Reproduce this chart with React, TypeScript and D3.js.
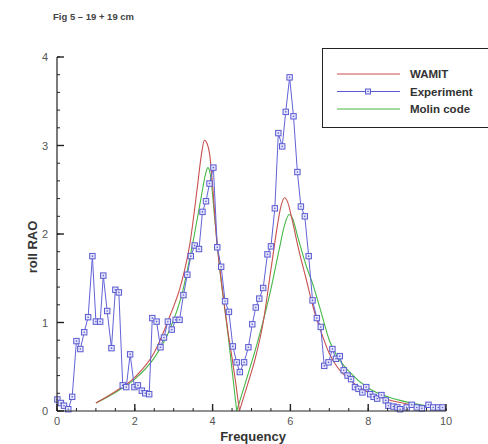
import React from 'react';
import * as d3 from 'd3';

// experiment (measured) roll RAO
const expFreq = [0.01, 0.1, 0.18, 0.29, 0.39, 0.5, 0.6, 0.7, 0.8, 0.91, 1.0, 1.11, 1.19, 1.29, 1.4, 1.5, 1.59, 1.69, 1.78, 1.88, 1.99, 2.08, 2.18, 2.27, 2.37, 2.45, 2.56, 2.66, 2.75, 2.85, 2.95, 3.05, 3.15, 3.25, 3.35, 3.44, 3.54, 3.65, 3.74, 3.83, 3.92, 4.02, 4.12, 4.22, 4.32, 4.42, 4.52, 4.62, 4.7, 4.81, 4.92, 5.02, 5.11, 5.2, 5.3, 5.41, 5.5, 5.6, 5.69, 5.79, 5.88, 5.98, 6.08, 6.18, 6.27, 6.37, 6.47, 6.57, 6.68, 6.78, 6.87, 6.98, 7.08, 7.17, 7.27, 7.37, 7.47, 7.56, 7.66, 7.75, 7.85, 7.95, 8.05, 8.14, 8.23, 8.34, 8.45, 8.52, 8.65, 8.75, 8.82, 8.99, 9.12, 9.25, 9.38, 9.55, 9.67, 9.8, 9.91];
const expRao = [0.13, 0.09, 0.06, 0.02, 0.16, 0.79, 0.7, 0.89, 1.06, 1.75, 1.01, 1.01, 1.53, 1.13, 0.71, 1.37, 1.34, 0.29, 0.27, 0.64, 0.27, 0.29, 0.23, 0.2, 0.19, 1.05, 1.01, 0.72, 0.83, 1.01, 0.92, 1.03, 1.03, 1.31, 1.54, 1.75, 1.87, 1.83, 2.25, 2.37, 2.57, 2.75, 1.85, 1.63, 1.24, 1.12, 0.73, 0.55, 0.44, 0.55, 0.72, 0.98, 1.17, 1.27, 1.39, 1.77, 1.86, 2.29, 3.14, 2.99, 3.38, 3.77, 3.33, 2.7, 2.31, 2.2, 1.75, 1.25, 1.05, 0.95, 0.51, 0.55, 0.7, 0.59, 0.62, 0.46, 0.4, 0.36, 0.27, 0.25, 0.21, 0.27, 0.19, 0.16, 0.14, 0.18, 0.12, 0.06, 0.05, 0.04, 0.02, 0.04, 0.07, 0.04, 0.03, 0.07, 0.04, 0.04, 0.04];

// WAMIT
const wamitFreq = [1.0, 1.5, 2.0, 2.5, 2.9, 3.2, 3.42, 3.6, 3.72, 3.79, 3.86, 3.93, 4.0, 4.1, 4.2, 4.3, 4.4, 4.5, 4.6, 4.69, 4.9, 5.1, 5.3, 5.5, 5.65, 5.75, 5.85, 5.93, 6.05, 6.2, 6.4, 6.6, 6.8, 7.0, 7.2, 7.5, 8.0, 8.5, 9.0, 9.5, 10.0];
const wamitRao = [0.09, 0.22, 0.38, 0.66, 1.07, 1.45, 1.9, 2.5, 2.92, 3.06, 3.02, 2.88, 2.55, 1.95, 1.55, 1.2, 0.88, 0.6, 0.3, 0.0, 0.3, 0.6, 1.0, 1.6, 2.05, 2.3, 2.41, 2.36, 2.15, 1.85, 1.5, 1.15, 0.88, 0.65, 0.5, 0.36, 0.21, 0.13, 0.08, 0.05, 0.03];

// Molin code
const molinFreq = [1.0, 1.5, 2.0, 2.5, 2.9, 3.2, 3.5, 3.7, 3.82, 3.88, 3.95, 4.05, 4.2, 4.4, 4.62, 4.9, 5.2, 5.5, 5.7, 5.85, 5.97, 6.05, 6.2, 6.4, 6.6, 6.8, 7.0, 7.2, 7.5, 8.0, 8.5, 9.0, 9.5, 10.0];
const molinRao = [0.09, 0.21, 0.36, 0.6, 0.92, 1.3, 1.92, 2.4, 2.68, 2.75, 2.65, 2.2, 1.55, 0.85, 0.0, 0.4, 0.85, 1.38, 1.8, 2.1, 2.22, 2.18, 1.95, 1.65, 1.4, 1.1, 0.8, 0.62, 0.45, 0.26, 0.16, 0.1, 0.06, 0.04];

const xTicks = [0, 2, 4, 6, 8, 10];
const yTicks = [0, 1, 2, 3, 4];

const legendItems = [
  { name: 'WAMIT', color: '#c85050', marker: false },
  { name: 'Experiment', color: '#5a5ad2', marker: true },
  { name: 'Molin code', color: '#46b846', marker: false },
];

const W = 488;
const H = 444;
const FONT = '"Liberation Sans", Arial, sans-serif';

const App: React.FC = () => {
  const x = d3.scaleLinear().domain([0, 10]).range([57, 446]);
  const y = d3.scaleLinear().domain([0, 4]).range([411, 57]);

  const toPts = (fx: number[], fy: number[]) => fx.map((f, i) => [f, fy[i]] as [number, number]);

  const smooth = d3
    .line<[number, number]>()
    .x((d) => x(d[0]))
    .y((d) => y(d[1]))
    .curve(d3.curveMonotoneX);
  const straight = d3
    .line<[number, number]>()
    .x((d) => x(d[0]))
    .y((d) => y(d[1]));

  // the computed curves have a sharp notch at the zero between the two peaks,
  // so draw each side of it as its own smooth piece
  const notched = (fx: number[], fy: number[]) => {
    const pts = toPts(fx, fy);
    const k = fy.indexOf(0);
    return (smooth(pts.slice(0, k + 1)) || '') + (smooth(pts.slice(k)) || '');
  };

  const xMinor = d3.range(0, 10.01, 0.5);
  const yMinor = d3.range(0, 4.01, 0.2);
  const exp = toPts(expFreq, expRao);

  return (
    <svg
      width={W}
      height={H}
      style={{ position: 'absolute', left: 0, top: 0, background: '#fff' }}
      fontFamily={FONT}
    >
      <text x={53} y={20} fontSize={9.5} fontWeight="bold" fill="#444">
        Fig 5 – 19 + 19 cm
      </text>

      {/* curves */}
      <path d={notched(molinFreq, molinRao)} fill="none" stroke="#46b846" strokeWidth={1.1} />
      <path d={notched(wamitFreq, wamitRao)} fill="none" stroke="#c85050" strokeWidth={1.1} />
      <path d={straight(exp) || undefined} fill="none" stroke="#6262d8" strokeWidth={1} />
      {exp.map((d, i) => (
        <g key={i}>
          <rect x={x(d[0]) - 2.7} y={y(d[1]) - 2.7} width={5.4} height={5.4} fill="#e6e6fb" stroke="#5a5ad2" strokeWidth={1} />
          <circle cx={x(d[0])} cy={y(d[1])} r={0.8} fill="#5a5ad2" />
        </g>
      ))}

      {/* axes */}
      <line x1={57} x2={57} y1={57} y2={411} stroke="#222" strokeWidth={1.2} />
      <line x1={57} x2={446} y1={411} y2={411} stroke="#222" strokeWidth={1.2} />
      {xMinor.map((t) => (
        <line key={`xm${t}`} x1={x(t)} x2={x(t)} y1={411} y2={411 - 3} stroke="#222" />
      ))}
      {xTicks.map((t) => (
        <g key={`x${t}`}>
          <line x1={x(t)} x2={x(t)} y1={411} y2={411 - 7} stroke="#222" strokeWidth={1.4} />
          <text x={x(t)} y={425} fontSize={11} fill="#555" textAnchor="middle">
            {t}
          </text>
        </g>
      ))}
      {yMinor.map((t) => (
        <line key={`ym${t}`} x1={57} x2={57 + 3} y1={y(t)} y2={y(t)} stroke="#222" />
      ))}
      {yTicks.map((t) => (
        <g key={`y${t}`}>
          <line x1={57} x2={57 + 7} y1={y(t)} y2={y(t)} stroke="#222" strokeWidth={1.4} />
          <text x={48} y={y(t) + 4} fontSize={11} fill="#555" textAnchor="end">
            {t}
          </text>
        </g>
      ))}

      <text x={253} y={441} fontSize={13} fontWeight="bold" fill="#333" textAnchor="middle">
        Frequency
      </text>
      <text
        transform="translate(37,247) rotate(-90)"
        fontSize={13}
        fontWeight="bold"
        fill="#333"
        textAnchor="middle"
      >
        roll RAO
      </text>

      {/* legend */}
      <rect x={322.5} y={48.5} width={170} height={79} fill="#fff" stroke="#222" strokeWidth={1} />
      {legendItems.map((it, i) => {
        const ly = 74 + i * 17.5;
        return (
          <g key={it.name}>
            <line x1={337} x2={400} y1={ly} y2={ly} stroke={it.color} strokeWidth={1.1} />
            {it.marker && (
              <g>
                <rect x={365.5} y={ly - 2.5} width={5} height={5} fill="#e6e6fb" stroke={it.color} />
                <circle cx={368} cy={ly} r={0.8} fill={it.color} />
              </g>
            )}
            <text x={410} y={ly + 4} fontSize={11.5} fontWeight="bold" fill="#333">
              {it.name}
            </text>
          </g>
        );
      })}
    </svg>
  );
};

export default App;
